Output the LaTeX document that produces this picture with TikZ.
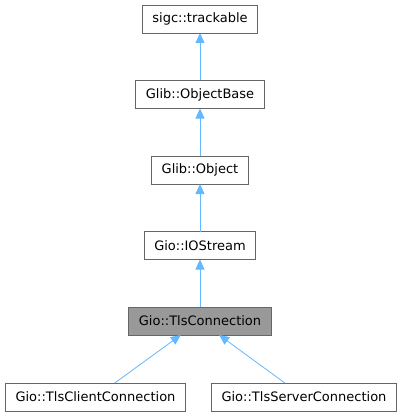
\documentclass[tikz,border=0pt]{standalone}
\usepackage{fontspec}
\setmainfont{DejaVu Sans}
\usetikzlibrary{arrows.meta, positioning}
\definecolor{edgeblue}{HTML}{63B8FF}
\definecolor{boxgray}{HTML}{666666}
\definecolor{curgray}{HTML}{999999}
\tikzstyle{cls} = [rectangle, 
			draw=boxgray, 
			fill=white, 
			line width=0.8pt, 
			outer sep=0pt, 
			text centered, 
			font=\fontsize{13pt}{15pt}\selectfont, 
			inner xsep=10pt, 
			minimum height = 28pt]
\tikzstyle{current} = [cls, fill=curgray]
\tikzstyle{line} = [draw=edgeblue, line width=0.8pt, -{Triangle[width=9pt, length=10pt]}]

\begin{document}
\begin{tikzpicture}[node distance = 47.5pt, auto]
	\useasboundingbox (0,0) rectangle (402pt,-417pt);
	\node [cls] (trackable) at (200pt,-19pt) {sigc::trackable};
	\node [cls, below=of trackable] (objbase) {Glib::ObjectBase};
	\path [line] (objbase) -- (trackable);
	\node [cls, below=of objbase] (object) {Glib::Object};
	\path [line] (object) -- (objbase);
	\node [cls, below=of object] (iostream) {Gio::IOStream};
	\path [line] (iostream) -- (object);
	\node [current, below=of iostream] (conn) {Gio::TlsConnection};
	\path [line] (conn) -- (iostream);
	\node [cls, below=48pt of conn, xshift=-104.5pt] (client) {Gio::TlsClientConnection};
	\path [line] (client) -- (conn);
	\node [cls, below=48pt of conn, xshift=104pt] (server) {Gio::TlsServerConnection};
	\path [line] (server) -- (conn);
\end{tikzpicture}
\end{document}
